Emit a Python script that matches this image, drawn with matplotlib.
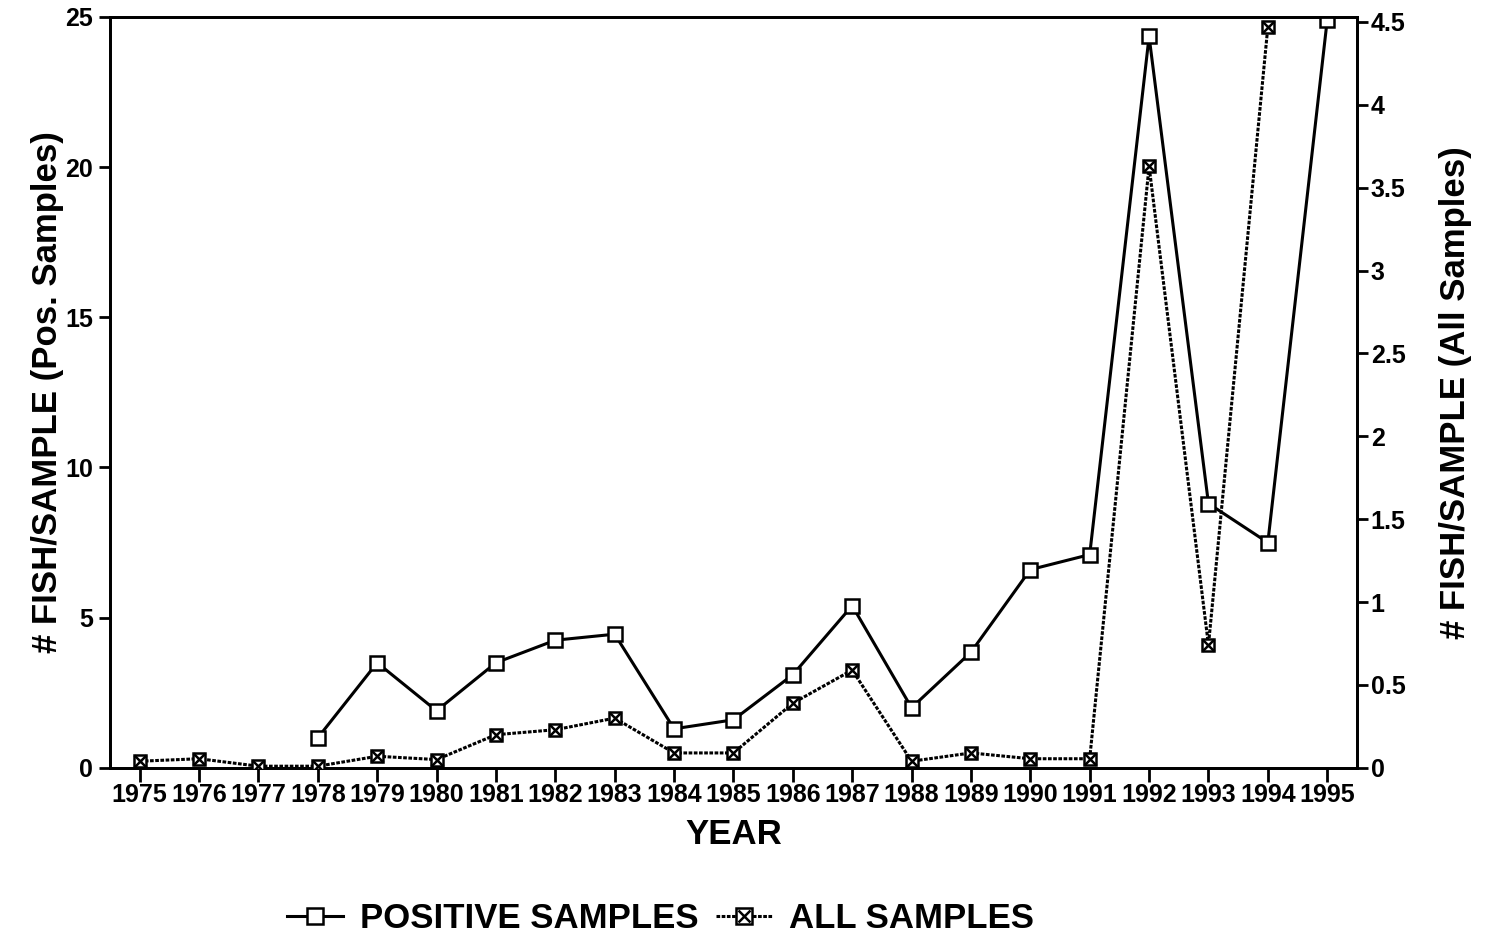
"""Fish per sample by year: positive samples vs all samples (twin y axes)."""
import matplotlib
matplotlib.use("Agg")
import matplotlib.pyplot as plt
from matplotlib.lines import Line2D
from matplotlib.legend_handler import HandlerTuple

# Data
years = list(range(1975, 1996))

pos_years = [1978, 1979, 1980, 1981, 1982, 1983, 1984, 1985, 1986, 1987,
             1988, 1989, 1990, 1991, 1992, 1993, 1994, 1995]
pos_samples = [1.0, 3.5, 1.9, 3.5, 4.25, 4.45, 1.3, 1.6, 3.1, 5.4,
               2.0, 3.85, 6.6, 7.1, 24.35, 8.8, 7.5, 24.9]

all_years = list(range(1975, 1995))
all_samples = [0.04, 0.055, 0.01, 0.01, 0.07, 0.05, 0.2, 0.23, 0.3, 0.09,
               0.09, 0.39, 0.59, 0.04, 0.09, 0.055, 0.055, 3.63, 0.74, 4.47]

plt.rcParams["font.family"] = ["Liberation Sans", "DejaVu Sans"]
plt.rcParams["font.weight"] = "bold"

fig = plt.figure(figsize=(14.88, 9.41), dpi=100)
ax1 = fig.add_axes([0.0739, 0.184, 0.838, 0.798])
ax2 = ax1.twinx()

ax1.plot(pos_years, pos_samples, color="black", lw=2.2, marker="s", ms=10,
         mfc="white", mec="black", mew=1.8, zorder=3)

ax2.plot(all_years, all_samples, color="black", lw=2.2, ls=(0, (1.2, 0.5)),
         marker="s", ms=9, mfc="white", mec="black", mew=1.8, zorder=3)
ax2.plot(all_years, all_samples, ls="none", marker="x", ms=8, mec="black",
         mew=1.8, zorder=4)

ax1.set_xlim(1974.5, 1995.5)
ax1.set_ylim(0, 25)
ax2.set_ylim(0, 4.53)
ax1.set_xticks(years)
ax1.set_yticks([0, 5, 10, 15, 20, 25])
ax2.set_yticks([0, 0.5, 1, 1.5, 2, 2.5, 3, 3.5, 4, 4.5])
ax2.set_yticklabels(["0", "0.5", "1", "1.5", "2", "2.5", "3", "3.5", "4", "4.5"])

for ax in (ax1, ax2):
    for s in ax.spines.values():
        s.set_linewidth(2)
ax1.tick_params(axis="x", direction="out", length=10, width=2, labelsize=18, pad=1)
ax1.tick_params(axis="y", direction="out", length=8, width=2, labelsize=18, pad=4)
ax2.tick_params(axis="y", direction="out", length=8, width=2, labelsize=18, pad=2)

ax1.set_xlabel("YEAR", fontsize=25, fontweight="bold", labelpad=8)
ax1.set_ylabel("# FISH/SAMPLE (Pos. Samples)", fontsize=25, fontweight="bold", labelpad=1)
ax2.set_ylabel("# FISH/SAMPLE (All Samples)", fontsize=25, fontweight="bold", labelpad=24)

# Legend
h_pos = Line2D([], [], color="black", lw=2.2, marker="s", ms=11, mfc="white",
               mec="black", mew=1.8)
h_all_sq = Line2D([], [], color="black", lw=2.2, ls=(0, (1.2, 0.5)), marker="s",
                  ms=11, mfc="white", mec="black", mew=1.8)
h_all_x = Line2D([], [], ls="none", marker="x", ms=9, mec="black", mew=1.8)
fig.legend([h_pos, (h_all_sq, h_all_x)], ["POSITIVE SAMPLES", "ALL SAMPLES"],
           handler_map={tuple: HandlerTuple(ndivide=1)},
           loc="center", bbox_to_anchor=(0.444, 0.024), ncol=2, frameon=False,
           prop={"size": 25, "weight": "bold"}, handlelength=1.6,
           handletextpad=0.5, columnspacing=0.5)

plt.savefig("out.png", dpi=100)
